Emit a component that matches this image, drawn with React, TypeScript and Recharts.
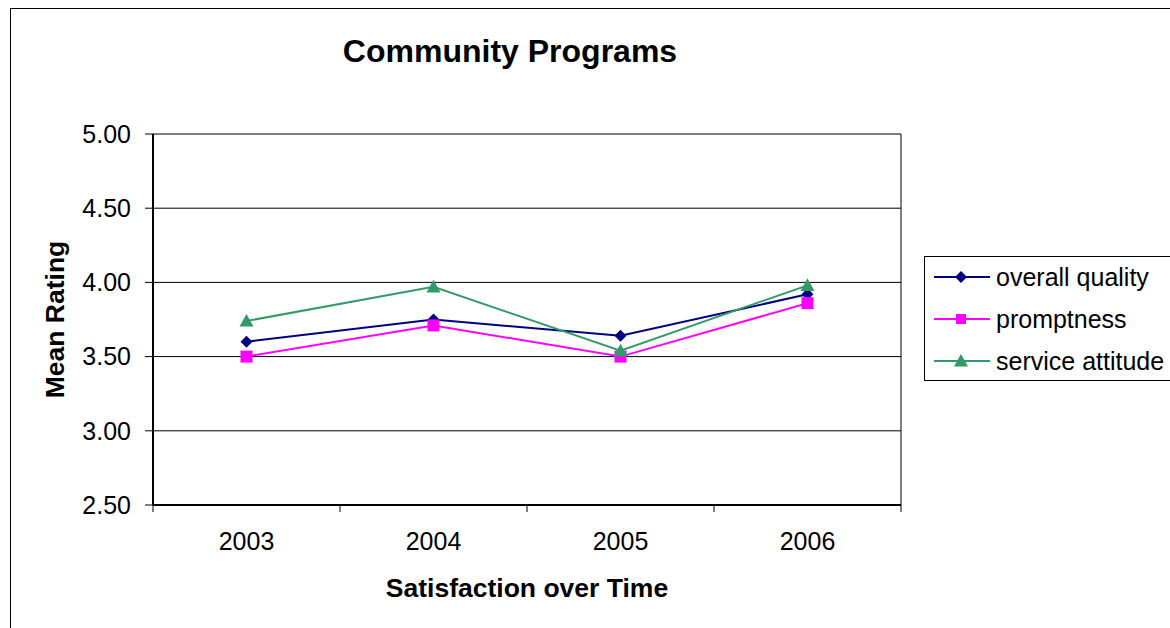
import React from 'react';
import { LineChart, Line, XAxis, YAxis, CartesianGrid, Label } from 'recharts';

const years = ['2003', '2004', '2005', '2006'];
const overallQuality = [3.6, 3.75, 3.64, 3.92];
const promptness = [3.5, 3.71, 3.5, 3.86];
const serviceAttitude = [3.74, 3.97, 3.54, 3.98];
const yTicks = [2.5, 3.0, 3.5, 4.0, 4.5, 5.0];

const data = years.map((year, i) => ({
  year,
  overall: overallQuality[i],
  promptness: promptness[i],
  service: serviceAttitude[i],
}));

const FONT = '"Liberation Sans", Arial, sans-serif';
const NAVY = '#000080';
const MAGENTA = '#FF00FF';
const GREEN = '#339966';

const PLOT_LEFT = 153;
const PLOT_RIGHT = 901;
const PLOT_BOTTOM = 505;
const BAND = (PLOT_RIGHT - PLOT_LEFT) / years.length;

const Diamond = ({ cx, cy, fill, size = 6 }: any) => {
  if (cx == null || cy == null) return null;
  return (
    <polygon
      points={`${cx},${cy - size} ${cx + size},${cy} ${cx},${cy + size} ${cx - size},${cy}`}
      fill={fill}
    />
  );
};

const Square = ({ cx, cy, fill, size = 5.5 }: any) => {
  if (cx == null || cy == null) return null;
  return <rect x={cx - size} y={cy - size} width={size * 2} height={size * 2} fill={fill} />;
};

const Triangle = ({ cx, cy, fill, size = 7 }: any) => {
  if (cx == null || cy == null) return null;
  return (
    <polygon
      points={`${cx},${cy - size} ${cx + size},${cy + size * 0.8} ${cx - size},${cy + size * 0.8}`}
      fill={fill}
    />
  );
};

const XTick = ({ x, payload, index }: any) => (
  <g>
    <line x1={x - BAND / 2} x2={x - BAND / 2} y1={PLOT_BOTTOM} y2={PLOT_BOTTOM + 7} stroke="#000" />
    {index === years.length - 1 && (
      <line x1={x + BAND / 2} x2={x + BAND / 2} y1={PLOT_BOTTOM} y2={PLOT_BOTTOM + 7} stroke="#000" />
    )}
    <text x={x} y={PLOT_BOTTOM + 45} textAnchor="middle" fontSize={25} fontFamily={FONT} fill="#000">
      {payload.value}
    </text>
  </g>
);

const legendItems = [
  { name: 'overall quality', color: NAVY, marker: 'diamond' },
  { name: 'promptness', color: MAGENTA, marker: 'square' },
  { name: 'service attitude', color: GREEN, marker: 'triangle' },
];

const LegendIcon = ({ color, marker }: any) => (
  <svg width={56} height={20} style={{ display: 'block' }}>
    <line x1={0} x2={56} y1={10} y2={10} stroke={color} strokeWidth={2} />
    {marker === 'diamond' && <Diamond cx={27} cy={10} fill={color} size={6} />}
    {marker === 'square' && <Square cx={27} cy={10} fill={color} size={5} />}
    {marker === 'triangle' && <Triangle cx={27} cy={10} fill={color} size={7} />}
  </svg>
);

export default function App() {
  return (
    <div
      style={{
        position: 'absolute',
        left: 0,
        top: 0,
        width: 1170,
        height: 628,
        background: '#fff',
        overflow: 'hidden',
        fontFamily: FONT,
      }}
    >
      <div
        style={{
          position: 'absolute',
          left: 10,
          top: 8,
          width: 1200,
          height: 700,
          border: '1px solid #000',
        }}
      />
      <div
        style={{
          position: 'absolute',
          left: 0,
          width: 1020,
          top: 33,
          textAlign: 'center',
          fontSize: 32,
          fontWeight: 'bold',
          lineHeight: '36px',
        }}
      >
        Community Programs
      </div>
      <div style={{ position: 'absolute', left: 0, top: 0 }}>
        <LineChart
          width={1170}
          height={628}
          data={data}
          margin={{ top: 134, right: 269, left: 53, bottom: 31 }}
        >
          <CartesianGrid vertical={false} stroke="#000" strokeWidth={1} />
          <CartesianGrid horizontal={false} verticalPoints={[PLOT_RIGHT]} stroke="#000" strokeWidth={1} />
          <XAxis
            dataKey="year"
            height={92}
            padding={{ left: BAND / 2, right: BAND / 2 }}
            tickLine={false}
            axisLine={{ stroke: '#000', strokeWidth: 2 }}
            tick={<XTick />}
            interval={0}
          >
            <Label
              value="Satisfaction over Time"
              position="insideBottom"
              offset={0}
              style={{ fontSize: 26.5, fontWeight: 'bold', fontFamily: FONT, fill: '#000' }}
            />
          </XAxis>
          <YAxis
            width={100}
            domain={[2.5, 5]}
            ticks={yTicks}
            interval={0}
            tickFormatter={(v: number) => v.toFixed(2)}
            tickSize={8}
            tickMargin={14}
            tickLine={{ stroke: '#000' }}
            axisLine={{ stroke: '#000', strokeWidth: 2 }}
            tick={{ fontSize: 25, fontFamily: FONT, fill: '#000' }}
          >
            <Label
              value="Mean Rating"
              angle={-90}
              position="insideLeft"
              offset={2}
              style={{ fontSize: 26.5, fontWeight: 'bold', fontFamily: FONT, fill: '#000', textAnchor: 'middle' }}
            />
          </YAxis>
          <Line
            dataKey="overall"
            stroke={NAVY}
            strokeWidth={2}
            dot={<Diamond fill={NAVY} size={6} />}
            activeDot={false}
            isAnimationActive={false}
          />
          <Line
            dataKey="promptness"
            stroke={MAGENTA}
            strokeWidth={2}
            dot={<Square fill={MAGENTA} size={6} />}
            activeDot={false}
            isAnimationActive={false}
          />
          <Line
            dataKey="service"
            stroke={GREEN}
            strokeWidth={2}
            dot={<Triangle fill={GREEN} size={7} />}
            activeDot={false}
            isAnimationActive={false}
          />
        </LineChart>
      </div>
      <div
        style={{
          position: 'absolute',
          left: 924,
          top: 256,
          width: 300,
          height: 123,
          border: '1px solid #000',
          background: '#fff',
        }}
      >
        {legendItems.map((item, i) => (
          <div
            key={item.name}
            style={{
              position: 'absolute',
              left: 9,
              top: 8 + i * 42,
              display: 'flex',
              alignItems: 'center',
              height: 24,
            }}
          >
            <LegendIcon color={item.color} marker={item.marker} />
            <span style={{ marginLeft: 6, fontSize: 25, lineHeight: '24px', whiteSpace: 'nowrap' }}>
              {item.name}
            </span>
          </div>
        ))}
      </div>
    </div>
  );
}
